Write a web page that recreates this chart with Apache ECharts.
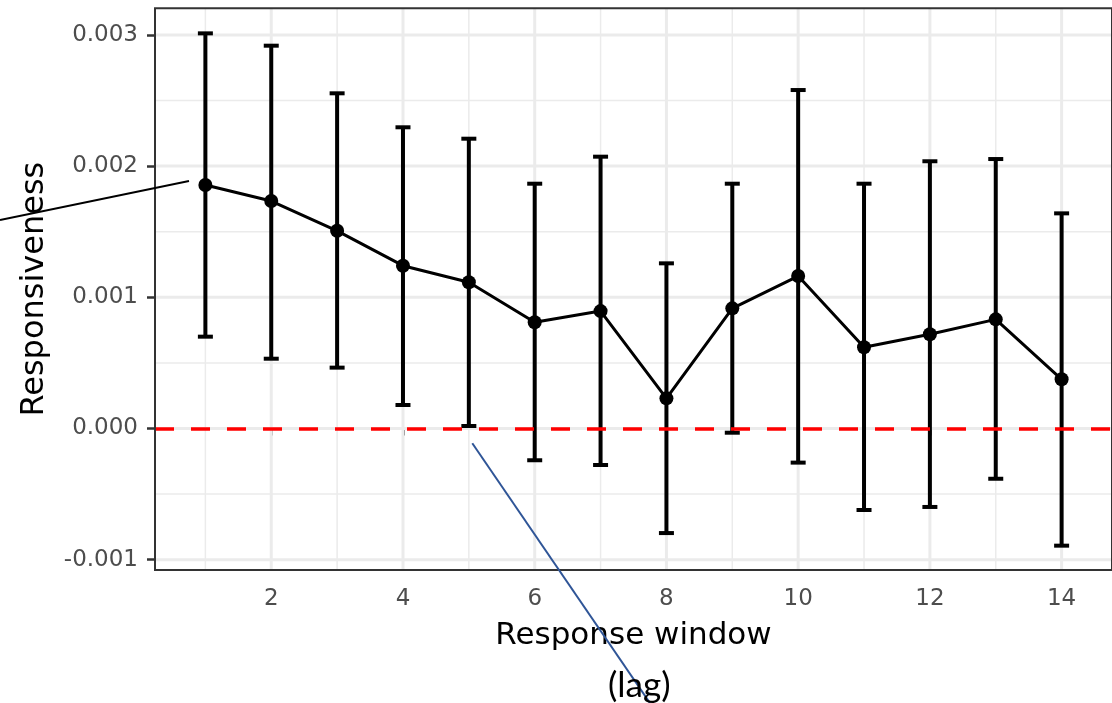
<!DOCTYPE html>
<html>
<head>
<meta charset="utf-8">
<script src="https://cdn.jsdelivr.net/npm/echarts@6/dist/echarts.min.js"></script>
<style>
  html, body { margin: 0; padding: 0; background: #ffffff; }
  #chart { width: 1112px; height: 703px; }
</style>
</head>
<body>
<div id="chart"></div>
<script>
// Response window (lag) and estimated responsiveness with confidence intervals
const lags = [1, 2, 3, 4, 5, 6, 7, 8, 9, 10, 11, 12, 13, 14];
const estimate = [0.001856, 0.001734, 0.001507, 0.001241, 0.001115, 0.000810, 0.000895,
                  0.000230, 0.000916, 0.001162, 0.000619, 0.000718, 0.000832, 0.000375];
const lower = [0.000700, 0.000532, 0.000464, 0.000179, 0.000019, -0.000242, -0.000278,
               -0.000797, -0.000032, -0.000260, -0.000621, -0.000598, -0.000383, -0.000893];
const upper = [0.003012, 0.002918, 0.002555, 0.002296, 0.002209, 0.001866, 0.002072,
               0.001259, 0.001866, 0.002580, 0.001866, 0.002037, 0.002054, 0.001640];

const xTicks = [2, 4, 6, 8, 10, 12, 14];
const xMinorTicks = [1, 3, 5, 7, 9, 11, 13];
const yTicks = [-0.001, 0, 0.001, 0.002, 0.003];
const yMinorTicks = [-0.0005, 0.0005, 0.0015, 0.0025];
const refLevel = 0;

const FONT = 'DejaVu Sans';
const GRID_COLOR = '#EBEBEB';

const barData = lags.map((x, i) => [x, lower[i], upper[i]]);
const pointData = lags.map((x, i) => [x, estimate[i]]);

// panel grid: [value, vertical (1) / horizontal (0), major (1) / minor (0)]
const gridData = [].concat(
  xMinorTicks.map(v => [v, 1, 0]),
  yMinorTicks.map(v => [v, 0, 0]),
  xTicks.map(v => [v, 1, 1]),
  yTicks.map(v => [v, 0, 1])
);

const chart = echarts.init(document.getElementById('chart'), null, { renderer: 'canvas' });

chart.setOption({
  animation: false,
  backgroundColor: '#ffffff',
  grid: {
    left: 155, top: 8.3, width: 965.5, height: 561.7,
    show: true, borderColor: '#333333', borderWidth: 2, backgroundColor: 'transparent', z: 20
  },
  xAxis: {
    type: 'value',
    min: 0.235, max: 14.765,
    name: 'Response window',
    nameLocation: 'middle',
    nameGap: 50,
    nameTextStyle: { fontFamily: FONT, fontSize: 31, color: '#000000' },
    axisLine: { show: false },
    splitLine: { show: false },
    axisTick: { show: true, customValues: xTicks, length: 7, lineStyle: { color: '#333333', width: 2.5 } },
    axisLabel: { customValues: xTicks, margin: 18, fontFamily: FONT, fontSize: 23, color: '#4D4D4D' }
  },
  yAxis: {
    type: 'value',
    min: -0.0010785, max: 0.003203,
    name: 'Responsiveness',
    nameLocation: 'middle',
    nameGap: 104,
    nameTextStyle: { fontFamily: FONT, fontSize: 32, color: '#000000' },
    axisLine: { show: false },
    splitLine: { show: false },
    axisTick: { show: true, customValues: yTicks, length: 8, lineStyle: { color: '#333333', width: 2.5 } },
    axisLabel: {
      customValues: yTicks, margin: 17, fontFamily: FONT, fontSize: 23, color: '#4D4D4D',
      formatter: v => v.toFixed(3)
    }
  },
  series: [
    {
      type: 'custom',
      data: gridData,
      z: 1,
      silent: true,
      clip: true,
      dimensions: ['v', 'dir', 'major'],
      encode: { x: -1, y: -1 },
      renderItem: function (params, api) {
        const cs = params.coordSys;
        const v = api.value(0);
        const vertical = api.value(1) === 1;
        const w = api.value(2) === 1 ? 3 : 1.5;
        let shape;
        if (vertical) {
          const px = api.coord([v, 0])[0];
          shape = { x1: px, y1: cs.y, x2: px, y2: cs.y + cs.height };
        } else {
          const py = api.coord([1, v])[1];
          shape = { x1: cs.x, y1: py, x2: cs.x + cs.width, y2: py };
        }
        return { type: 'line', shape: shape, style: { stroke: GRID_COLOR, lineWidth: w, fill: null } };
      }
    },
    {
      type: 'custom',
      data: barData,
      z: 3,
      encode: { x: 0, y: [1, 2] },
      renderItem: function (params, api) {
        const x = api.value(0);
        const pLo = api.coord([x, api.value(1)]);
        const pHi = api.coord([x, api.value(2)]);
        const hw = 7.5;
        const st = () => ({ stroke: '#000000', lineWidth: 4, fill: null });
        return {
          type: 'group',
          children: [
            { type: 'line', shape: { x1: pLo[0], y1: pLo[1], x2: pHi[0], y2: pHi[1] }, style: st() },
            { type: 'line', shape: { x1: pHi[0] - hw, y1: pHi[1], x2: pHi[0] + hw, y2: pHi[1] }, style: st() },
            { type: 'line', shape: { x1: pLo[0] - hw, y1: pLo[1], x2: pLo[0] + hw, y2: pLo[1] }, style: st() }
          ]
        };
      }
    },
    {
      type: 'line',
      data: pointData,
      z: 4,
      symbol: 'circle',
      symbolSize: 14,
      itemStyle: { color: '#000000' },
      lineStyle: { color: '#000000', width: 3 }
    },
    {
      type: 'line', data: [], z: 6, silent: true,
      markLine: {
        z: 6, symbol: 'none', silent: true, label: { show: false }, animation: false,
        emphasis: { disabled: true },
        data: [{ yAxis: refLevel, lineStyle: { color: '#FF0000', width: 3.5, type: [19, 17] } }]
      }
    }
  ],
  graphic: [
    {
      type: 'line', z: 100, silent: true,
      shape: { x1: 0, y1: 220, x2: 189, y2: 181 },
      style: { stroke: '#000000', lineWidth: 1.8 }
    },
    {
      type: 'line', z: 100, silent: true,
      shape: { x1: 472.3, y1: 443.3, x2: 652, y2: 706 },
      style: { stroke: '#2F5597', lineWidth: 2 }
    },
    {
      type: 'text', z: 101, silent: true,
      left: 608, top: 668,
      style: { text: '(lag)', fontFamily: 'Lato', fontSize: 35, fill: '#000000' }
    }
  ]
});
</script>
</body>
</html>
